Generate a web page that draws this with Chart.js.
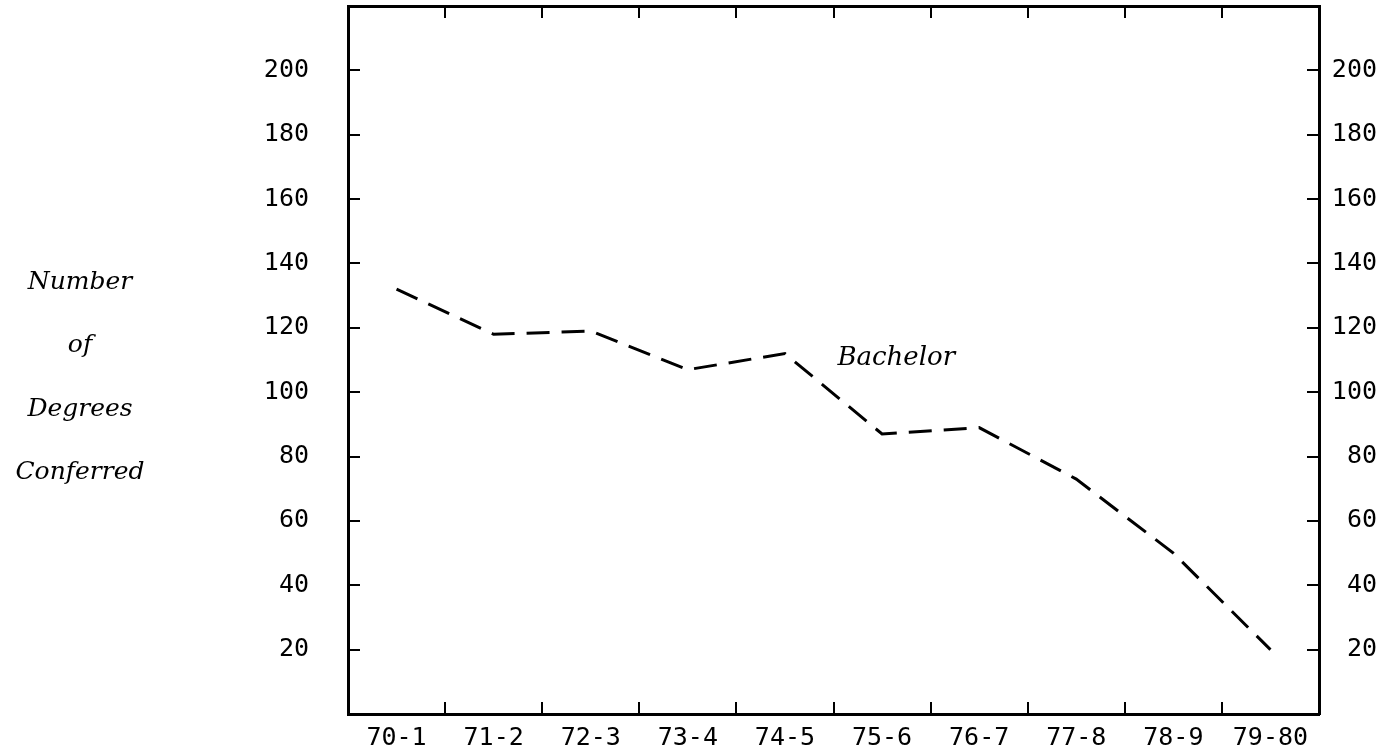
<!DOCTYPE html>
<html lang="en">
<head>
    <meta charset="UTF-8">
    <title>Degrees Conferred</title>
    <script src="https://cdn.jsdelivr.net/npm/chart.js"></script>
    <style>
        body {
            margin: 0;
            background-color: #ffffff;
        }
        #chart-container {
            width: 1397px;
            height: 752px;
            position: relative;
        }
    </style>
</head>
<body>
    <div id="chart-container">
        <canvas id="degreesChart"></canvas>
    </div>

    <script>
        // data
        const years = ['70-1', '71-2', '72-3', '73-4', '74-5', '75-6', '76-7', '77-8', '78-9', '79-80'];
        const bachelor = [132, 118, 119, 107, 112, 87, 89, 73, 50, 20];
        const yTitleLines = ['Number', 'of', 'Degrees', 'Conferred'];
        const seriesLabel = 'Bachelor';

        const tickFont = { family: 'DejaVu Sans Mono', size: 25 };

        // hide the 0 and 220 labels, they sit on the frame
        function yLabel(value) {
            return (value === 0 || value === 220) ? '' : value;
        }

        // axis title on the left and the series name inside the plot
        const textPlugin = {
            id: 'textPlugin',
            afterDraw(chart) {
                const ctx = chart.ctx;
                const y = chart.scales.y;
                const x = chart.scales.x;
                ctx.save();
                ctx.fillStyle = '#000';
                ctx.textBaseline = 'middle';
                ctx.font = 'italic 25px "DejaVu Serif"';
                ctx.textAlign = 'center';
                yTitleLines.forEach((line, i) => {
                    ctx.fillText(line, 80, 282 + i * 63.5);
                });
                ctx.font = 'italic 26px "DejaVu Serif"';
                ctx.textAlign = 'left';
                ctx.fillText(seriesLabel, x.getPixelForValue(4.54), y.getPixelForValue(110.5));
                ctx.restore();
            }
        };

        const tickGrid = { offset: true, drawOnChartArea: false, color: '#000', lineWidth: 2, tickLength: -12 };

        new Chart(document.getElementById('degreesChart'), {
            type: 'line',
            data: {
                labels: years,
                datasets: [{
                    label: seriesLabel,
                    data: bachelor,
                    borderColor: '#000',
                    borderWidth: 3,
                    borderDash: [23, 12],
                    pointRadius: 0,
                    tension: 0,
                    xAxisID: 'x',
                    yAxisID: 'y'
                }]
            },
            options: {
                responsive: true,
                maintainAspectRatio: false,
                animation: false,
                layout: { padding: { top: 6, right: 20, bottom: 0, left: 0 } },
                plugins: {
                    legend: { display: false },
                    tooltip: { enabled: false }
                },
                scales: {
                    x: {
                        type: 'category',
                        position: 'bottom',
                        offset: true,
                        grid: tickGrid,
                        border: { color: '#000', width: 3 },
                        ticks: { color: '#000', font: tickFont, padding: 21, maxRotation: 0, autoSkip: false },
                        afterFit(scale) { scale.height = 38; }
                    },
                    x2: {
                        type: 'category',
                        position: 'top',
                        labels: years,
                        offset: true,
                        grid: tickGrid,
                        border: { color: '#000', width: 3 },
                        ticks: { display: false },
                        afterFit(scale) { scale.height = 0; }
                    },
                    y: {
                        position: 'left',
                        min: 0,
                        max: 220,
                        grid: { drawOnChartArea: false, color: '#000', lineWidth: 2, tickLength: -12 },
                        border: { color: '#000', width: 3 },
                        ticks: { stepSize: 20, color: '#000', font: tickFont, padding: 51, callback: yLabel },
                        afterFit(scale) {
                            scale.width = 348;
                            scale.paddingTop = 0;
                            scale.paddingBottom = 0;
                        }
                    },
                    y2: {
                        position: 'right',
                        min: 0,
                        max: 220,
                        grid: { drawOnChartArea: false, color: '#000', lineWidth: 2, tickLength: -12 },
                        border: { color: '#000', width: 3 },
                        ticks: { stepSize: 20, color: '#000', font: tickFont, crossAlign: 'far', callback: yLabel },
                        afterFit(scale) {
                            scale.width = 58;
                            scale.paddingTop = 0;
                            scale.paddingBottom = 0;
                        }
                    }
                }
            },
            plugins: [textPlugin]
        });
    </script>
</body>
</html>
